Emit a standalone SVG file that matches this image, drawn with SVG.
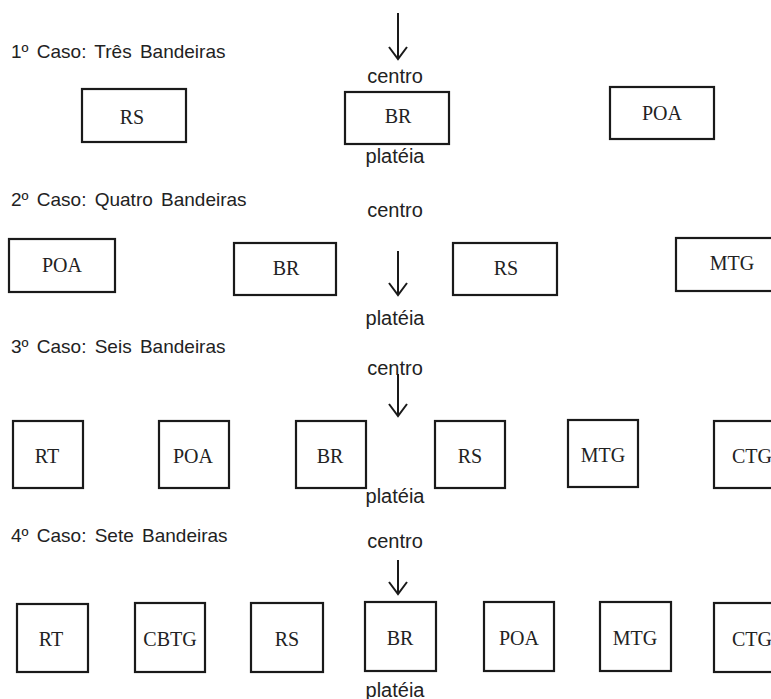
<svg xmlns="http://www.w3.org/2000/svg" width="771" height="699" viewBox="0 0 771 699">
<style>
.h{font-family:"Liberation Sans",Arial,sans-serif;font-size:19px;fill:#222;word-spacing:3px}
.c{font-family:"Liberation Sans",Arial,sans-serif;font-size:20px;fill:#222;text-anchor:middle}
.b{fill:#fff;stroke:#1a1a1a;stroke-width:2.2}
.t{font-family:"Liberation Serif","Times New Roman",serif;font-size:20px;fill:#222;text-anchor:middle}
.a{stroke:#1a1a1a;stroke-width:2;fill:none}
</style>
<rect width="771" height="699" fill="#fff"/>
<g id="labels">
<text class="h" x="11" y="58">1º Caso: Três Bandeiras</text>
<text class="c" x="395" y="83">centro</text>
<text class="c" x="395" y="163">platéia</text>
<text class="h" x="11" y="206">2º Caso: Quatro Bandeiras</text>
<text class="c" x="395" y="217">centro</text>
<text class="c" x="395" y="325">platéia</text>
<text class="h" x="11" y="353">3º Caso: Seis Bandeiras</text>
<text class="c" x="395" y="375">centro</text>
<text class="c" x="395" y="503">platéia</text>
<text class="h" x="11" y="542">4º Caso: Sete Bandeiras</text>
<text class="c" x="395" y="548">centro</text>
<text class="c" x="395" y="697">platéia</text>
</g>
<g id="connectors">
<path class="a" d="M398 13V59M389 47L398 59L407 47"/>
<path class="a" d="M398 251V295M389 283L398 295L407 283"/>
<path class="a" d="M398 374V416M389 404L398 416L407 404"/>
<path class="a" d="M398 560V594M389 582L398 594L407 582"/>
</g>
<g id="r1-rs"><rect class="b" x="82" y="89" width="104" height="53"/><text class="t" x="132" y="124">RS</text></g>
<g id="r1-br"><rect class="b" x="345" y="92" width="104" height="52"/><text class="t" x="398" y="123">BR</text></g>
<g id="r1-poa"><rect class="b" x="610" y="87" width="104" height="52"/><text class="t" x="662" y="120">POA</text></g>
<g id="r2-poa"><rect class="b" x="9" y="239" width="106" height="53"/><text class="t" x="62" y="272">POA</text></g>
<g id="r2-br"><rect class="b" x="234" y="243" width="102" height="52"/><text class="t" x="286" y="275">BR</text></g>
<g id="r2-rs"><rect class="b" x="453" y="243" width="104" height="52"/><text class="t" x="506" y="275">RS</text></g>
<g id="r2-mtg"><rect class="b" x="676" y="238" width="100" height="53"/><text class="t" x="732" y="270">MTG</text></g>
<g id="r3-rt"><rect class="b" x="13" y="421" width="70" height="67"/><text class="t" x="47" y="463">RT</text></g>
<g id="r3-poa"><rect class="b" x="159" y="421" width="70" height="67"/><text class="t" x="193" y="463">POA</text></g>
<g id="r3-br"><rect class="b" x="296" y="421" width="70" height="67"/><text class="t" x="330" y="463">BR</text></g>
<g id="r3-rs"><rect class="b" x="435" y="421" width="70" height="67"/><text class="t" x="470" y="463">RS</text></g>
<g id="r3-mtg"><rect class="b" x="568" y="420" width="70" height="67"/><text class="t" x="603" y="462">MTG</text></g>
<g id="r3-ctg"><rect class="b" x="714" y="421" width="70" height="67"/><text class="t" x="752" y="463">CTG</text></g>
<g id="r4-rt"><rect class="b" x="17" y="604" width="71" height="68"/><text class="t" x="51" y="646">RT</text></g>
<g id="r4-cbtg"><rect class="b" x="135" y="603" width="70" height="69"/><text class="t" x="170" y="646">CBTG</text></g>
<g id="r4-rs"><rect class="b" x="251" y="603" width="72" height="69"/><text class="t" x="287" y="646">RS</text></g>
<g id="r4-br"><rect class="b" x="365" y="602" width="71" height="69"/><text class="t" x="400" y="645">BR</text></g>
<g id="r4-poa"><rect class="b" x="484" y="602" width="70" height="69"/><text class="t" x="519" y="645">POA</text></g>
<g id="r4-mtg"><rect class="b" x="600" y="602" width="71" height="69"/><text class="t" x="635" y="645">MTG</text></g>
<g id="r4-ctg"><rect class="b" x="714" y="603" width="70" height="69"/><text class="t" x="752" y="646">CTG</text></g>
</svg>
